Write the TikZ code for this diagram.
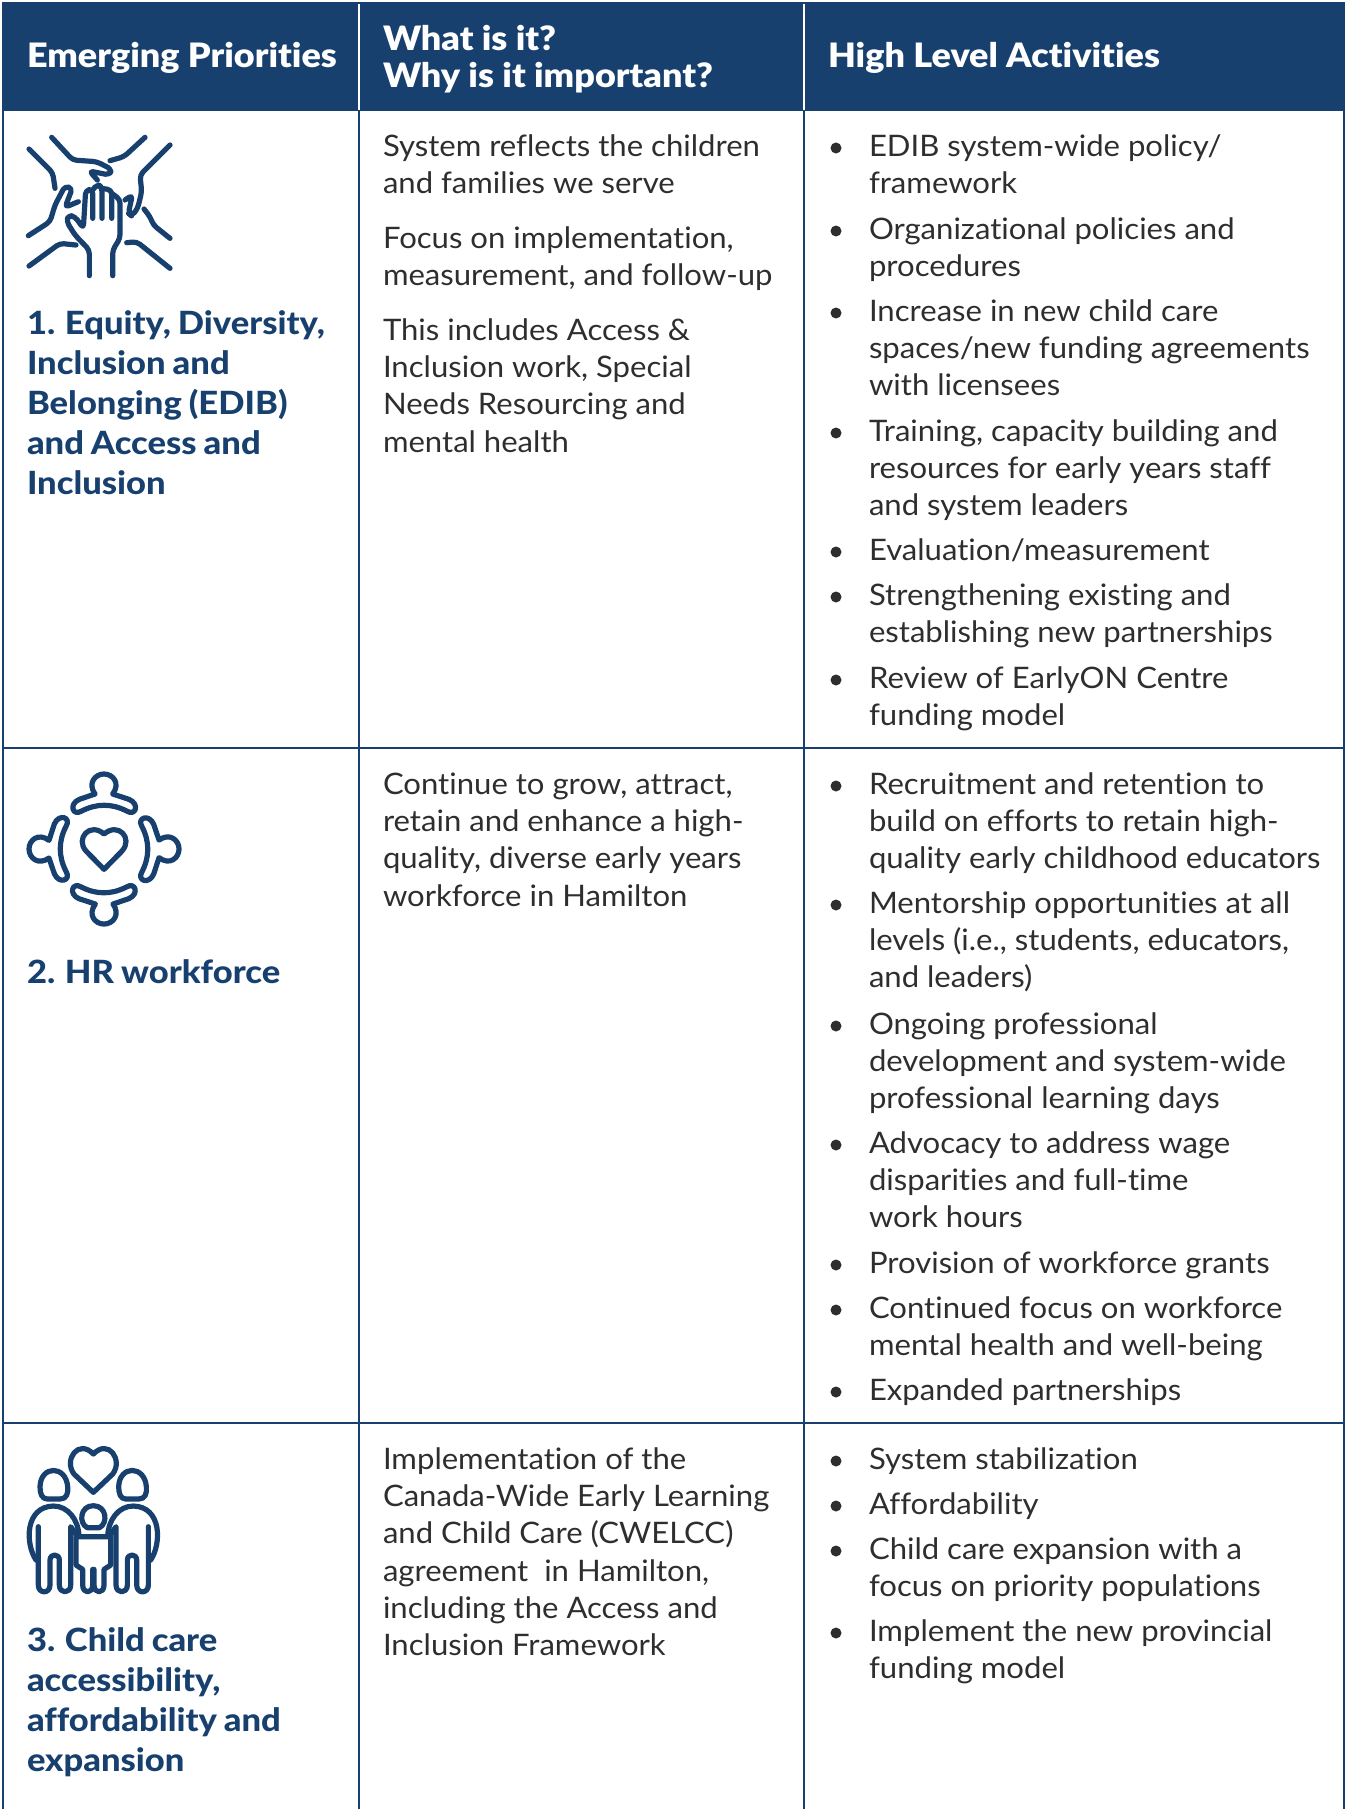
\documentclass[tikz,border=0pt]{standalone}
\usepackage{fontspec}
\setmainfont{Lato}[FakeStretch=1.05,Ligatures={NoCommon}]
\newfontfamily\labelfont{Lato}[FakeStretch=1.08,Ligatures={NoCommon},BoldFont={Lato Heavy},WordSpace=0.85]
\newfontfamily\headfont{Lato Black}[FakeStretch=1.07,Ligatures={NoCommon}]
\definecolor{navy}{HTML}{17406F}
\definecolor{ink}{HTML}{2E2E2E}
\tikzset{
  every node/.style={inner sep=0pt,outer sep=0pt,align=left,anchor=north west},
  bodytext/.style={text=ink,font=\fontsize{14.8}{18.65}\selectfont},
  labeltext/.style={text=navy,font=\labelfont\fontsize{16}{20}\selectfont\bfseries},
  headtext/.style={text=white,font=\headfont\fontsize{16.8}{18.5}\selectfont},
  rule/.style={navy,line width=1.1pt},
  headrule/.style={white,line width=1.1pt},
  icon/.style={navy,line width=2.6pt,line cap=round,line join=round},
  dot/.style={circle,fill=ink,minimum size=5.5pt}
}
\newcommand\bodyat[4]{\node[bodytext] (#1) at (#2,#3-27) {\strut #4};}
\newcommand\labelat[4]{\node[labeltext] (#1) at (#2,#3-28) {\strut #4};}
\newcommand\bul[3]{\node[dot,anchor=center] (d#1) at (836,#2-9) {};\node[bodytext] (#1) at (869,#2-27) {\strut #3};}
\begin{document}
\begin{tikzpicture}[x=0.5pt,y=-0.5pt]
\useasboundingbox (0,0) rectangle (1345,1809);
% header
\fill[navy] (2,2) rectangle (1345,111);
\draw[headrule] (359,4) -- (359,110);
\draw[headrule] (804,4) -- (804,110);
\node[headtext,anchor=base west] (h1) at (27,68) {Emerging Priorities};
\node[headtext,anchor=north west] (h2) at (383,25) {\strut What is it?\\Why is it important?};
\node[headtext,anchor=base west] (h3) at (828,68) {High Level Activities};
% grid
\draw[rule] (3,111) -- (3,1809);
\draw[rule] (1344,111) -- (1344,1809);
\draw[rule] (359,111) -- (359,1809);
\draw[rule] (804,111) -- (804,1809);
\draw[rule] (2,748) -- (1345,748);
\draw[rule] (2,1423) -- (1345,1423);
% column 1
\labelat{l1}{27}{334}{1. Equity, Diversity,\\Inclusion and\\Belonging (EDIB)\\and Access and\\Inclusion}
\labelat{l2}{27}{983}{2. HR workforce}
\labelat{l3}{27}{1651}{3. Child care\\accessibility,\\affordability and\\expansion}
% column 2
\bodyat{a1}{383}{157}{System reflects the children\\and families we serve}
\bodyat{a2}{383}{249}{Focus on implementation,\\measurement, and follow-up}
\bodyat{a3}{383}{341}{This includes Access \&\\Inclusion work, Special\\Needs Resourcing and\\mental health}
\bodyat{b1}{383}{795}{Continue to grow, attract,\\retain and enhance a high-\\quality, diverse early years\\workforce in Hamilton}
\bodyat{c1}{383}{1470}{Implementation of the\\Canada-Wide Early Learning\\and Child Care (CWELCC)\\agreement\ \ in Hamilton,\\including the Access and\\Inclusion Framework}
% column 3
\bul{p1}{157}{EDIB system-wide policy/\\framework}
\bul{p2}{240}{Organizational policies and\\procedures}
\bul{p3}{322}{Increase in new child care\\spaces/new funding agreements\\with licensees}
\bul{p4}{442}{Training, capacity building and\\resources for early years staff\\and system leaders}
\bul{p5}{561}{Evaluation/measurement}
\bul{p6}{606}{Strengthening existing and\\establishing new partnerships}
\bul{p7}{689}{Review of EarlyON Centre\\funding model}
\bul{q1}{795}{Recruitment and retention to\\build on efforts to retain high-\\quality early childhood educators}
\bul{q2}{914}{Mentorship opportunities at all\\levels (i.e., students, educators,\\and leaders)}
\bul{q3}{1035}{Ongoing professional\\development and system-wide\\professional learning days}
\bul{q4}{1154}{Advocacy to address wage\\disparities and full-time\\work hours}
\bul{q5}{1274}{Provision of workforce grants}
\bul{q6}{1319}{Continued focus on workforce\\mental health and well-being}
\bul{q7}{1401}{Expanded partnerships}
\bul{r1}{1470}{System stabilization}
\bul{r2}{1515}{Affordability}
\bul{r3}{1560}{Child care expansion with a\\focus on priority populations}
\bul{r4}{1642}{Implement the new provincial\\funding model}
% icon 1
\begin{scope}[shift={(0,110)},x=0.1667pt,y=-0.1667pt,icon]
\draw[rounded corners=2pt] (155,82) -- (218,150) -- (290,155) -- (335,178) -- (328,195) -- (268,183) -- (292,210);
\draw[rounded corners=2pt] (435,82) -- (372,140) -- (330,152);
\draw[rounded corners=2pt] (87,117) -- (158,188) -- (165,235);
\draw[rounded corners=2pt] (510,105) -- (420,195) -- (425,245) -- (413,295) -- (395,318) -- (385,310) -- (397,255) -- (375,270);
\draw[rounded corners=2pt] (85,377) -- (150,335) -- (165,285) -- (195,228) -- (217,235) -- (195,292) -- (235,275);
\draw[rounded corners=2pt] (87,468) -- (180,400) -- (228,405);
\draw[rounded corners=2pt] (432,297) -- (450,320) -- (460,345) -- (510,385);
\draw[rounded corners=2pt] (380,398) -- (410,395) -- (510,475);
\draw[rounded corners=2pt] (268,497) -- (268,420) -- (225,375) -- (200,335) -- (205,315) -- (225,320) -- (250,355) -- (257,240) -- (278,238) -- (278,325);
\draw[rounded corners=2pt] (278,240) -- (292,222) -- (306,232) -- (306,325);
\draw[rounded corners=2pt] (306,235) -- (335,240) -- (335,325);
\draw[rounded corners=2pt] (335,250) -- (360,268) -- (360,385) -- (338,420) -- (338,497);
\end{scope}
% icon 2
\begin{scope}[shift={(0,750)},x=0.1667pt,y=-0.1667pt,icon]
\foreach \a in {0,90,180,270}{
\begin{scope}[rotate around={\a:(312,297)}]
\draw (285,132) .. controls (262,100) and (285,72) .. (312,72) .. controls (339,72) and (362,100) .. (338,132)
 -- (387,148) .. controls (420,162) and (407,200) .. (380,183) .. controls (335,160) and (290,160) .. (245,183)
 .. controls (218,200) and (205,162) .. (238,148) -- cycle;
\end{scope}}
\draw (312,358) -- (258,303) .. controls (225,265) and (270,215) .. (312,252) .. controls (355,215) and (400,265) .. (366,303) -- cycle;
\end{scope}
% icon 3
\begin{scope}[shift={(0,1430)},x=0.1667pt,y=-0.1667pt,icon]
\draw (280,187) -- (222,132) .. controls (190,90) and (235,25) .. (280,72) .. controls (325,25) and (370,90) .. (338,132) -- cycle;
\draw (142,207) -- (180,207) .. controls (200,207) and (205,190) .. (203,170) .. controls (198,105) and (122,105) .. (120,170) .. controls (120,190) and (125,207) .. (142,207);
\draw (378,207) -- (416,207) .. controls (436,207) and (441,190) .. (439,170) .. controls (434,105) and (358,105) .. (356,170) .. controls (356,190) and (361,207) .. (378,207);
\draw (108,390) .. controls (75,340) and (75,230) .. (160,228) .. controls (205,228) and (235,270) .. (237,318);
\draw (452,390) .. controls (485,340) and (485,230) .. (400,228) .. controls (355,228) and (325,270) .. (323,318);
\draw (115,290) -- (115,465) .. controls (115,492) and (150,492) .. (150,465) -- (150,390) .. controls (150,370) and (178,370) .. (178,390) -- (178,465) .. controls (178,492) and (212,492) .. (212,465) -- (212,290) -- (234,320) -- (326,320) -- (348,290) -- (348,465) .. controls (348,492) and (382,492) .. (382,465) -- (382,390) .. controls (382,370) and (410,370) .. (410,390) -- (410,465) .. controls (410,492) and (445,492) .. (445,465) -- (445,290);
\draw (262,293) -- (298,293) .. controls (325,280) and (320,227) .. (280,227) .. controls (240,227) and (235,280) .. (262,293);
\draw (228,320) -- (228,405) -- (248,418) -- (248,465) .. controls (248,492) and (278,492) .. (278,465) -- (278,418) -- (282,418) -- (282,465) .. controls (282,492) and (312,492) .. (312,465) -- (312,418) -- (332,405) -- (332,320);
\end{scope}
\end{tikzpicture}
\end{document}
